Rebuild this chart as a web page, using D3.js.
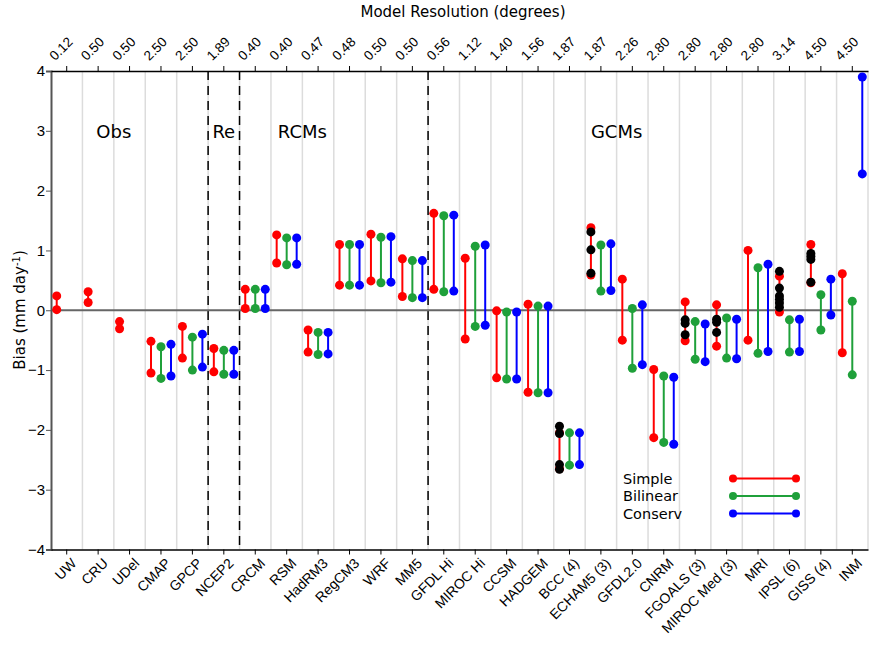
<!DOCTYPE html>
<html>
<head>
<meta charset="utf-8">
<script src="https://cdn.jsdelivr.net/npm/d3@7"></script>
<style>
  body { margin: 0; background: #fff; }
  svg { font-family: "DejaVu Sans", sans-serif; }
</style>
</head>
<body>
<svg id="chart" width="869" height="654"></svg>
<script>
const categories = ["UW", "CRU", "UDel", "CMAP", "GPCP", "NCEP2", "CRCM", "RSM", "HadRM3", "RegCM3", "WRF", "MM5",
  "GFDL Hi", "MIROC Hi", "CCSM", "HADGEM", "BCC (4)", "ECHAM5 (3)", "GFDL2.0", "CNRM", "FGOALS (3)",
  "MIROC Med (3)", "MRI", "IPSL (6)", "GISS (4)", "INM"];
const resolution = ["0.12", "0.50", "0.50", "2.50", "2.50", "1.89", "0.40", "0.40", "0.47", "0.48", "0.50", "0.50",
  "0.56", "1.12", "1.40", "1.56", "1.87", "1.87", "2.26", "2.80", "2.80", "2.80", "2.80", "3.14", "4.50", "4.50"];

const simpleHi = [0.24, 0.31, -0.19, -0.52, -0.27, -0.64, 0.35, 1.26, -0.33, 1.10, 1.27, 0.86,
  1.62, 0.87, -0.01, 0.10, -2.05, 1.38, 0.52, -0.99, 0.14, 0.09, 1.00, 0.57, 1.10, 0.61];
const simpleLo = [0.01, 0.13, -0.31, -1.05, -0.80, -1.03, 0.03, 0.79, -0.70, 0.42, 0.49, 0.23,
  0.35, -0.48, -1.13, -1.37, -2.65, 0.59, -0.50, -2.13, -0.51, -0.60, -0.50, -0.03, 0.46, -0.71];
const bilinHi = [null, null, null, -0.61, -0.45, -0.67, 0.35, 1.21, -0.37, 1.10, 1.22, 0.83,
  1.58, 1.07, -0.03, 0.07, -2.05, 1.09, 0.03, -1.10, -0.19, -0.13, 0.71, -0.16, 0.26, 0.15];
const bilinLo = [null, null, null, -1.14, -1.00, -1.07, 0.03, 0.76, -0.74, 0.42, 0.46, 0.21,
  0.31, -0.27, -1.15, -1.38, -2.59, 0.32, -0.97, -2.21, -0.82, -0.80, -0.72, -0.70, -0.33, -1.08];
const conservHi = [null, null, null, -0.57, -0.40, -0.67, 0.35, 1.21, -0.37, 1.10, 1.23, 0.83,
  1.59, 1.09, -0.03, 0.07, -2.05, 1.11, 0.09, -1.12, -0.23, -0.15, 0.77, -0.15, 0.52, 3.90];
const conservLo = [null, null, null, -1.10, -0.95, -1.07, 0.03, 0.77, -0.73, 0.42, 0.47, 0.21,
  0.32, -0.25, -1.15, -1.38, -2.58, 0.33, -0.91, -2.24, -0.86, -0.81, -0.69, -0.69, -0.08, 2.28];

// ensemble members (black dots, on the simple line)
const members = [
  ["BCC (4)", [-1.94, -2.06, -2.58, -2.66]],
  ["ECHAM5 (3)", [1.31, 1.01, 0.62]],
  ["FGOALS (3)", [-0.16, -0.22, -0.41]],
  ["MIROC Med (3)", [-0.15, -0.20, -0.37]],
  ["IPSL (6)", [0.65, 0.37, 0.24, 0.18, 0.12, 0.05]],
  ["GISS (4)", [0.95, 0.90, 0.85, 0.47]]
];

// group label and the category edge it is centred on
const groups = [["Obs", 2], ["Re", 5.5], ["RCMs", 8], ["GCMs", 18]];
const dividers = [5, 6, 12];

const methods = [
  { name: "Simple", hi: simpleHi, lo: simpleLo, color: "#ff0000", dx: -10 },
  { name: "Bilinear", hi: bilinHi, lo: bilinLo, color: "#1fa03a", dx: 0 },
  { name: "Conserv", hi: conservHi, lo: conservLo, color: "#0000ff", dx: 10 }
];

const plotLeft = 51, plotRight = 868, plotTop = 71, plotBottom = 549.5;
const svg = d3.select("#chart");

const x = d3.scaleBand().domain(categories).range([plotLeft, plotRight]);
const y = d3.scaleLinear().domain([-4, 4]).range([plotBottom, plotTop]);
const cx = (c) => x(c) + x.bandwidth() / 2;
const edge = (i) => plotLeft + i * x.bandwidth();

// light vertical grid at category edges
svg.append("g")
  .selectAll("line")
  .data(d3.range(1, categories.length + 1))
  .join("line")
  .attr("x1", edge).attr("x2", edge)
  .attr("y1", plotTop).attr("y2", plotBottom)
  .attr("stroke", "#dcdcdc")
  .attr("stroke-width", 1.5);

// dashed group dividers
svg.append("g")
  .selectAll("line")
  .data(dividers)
  .join("line")
  .attr("x1", edge).attr("x2", edge)
  .attr("y1", plotTop).attr("y2", plotBottom)
  .attr("stroke", "#000")
  .attr("stroke-width", 1.5)
  .attr("stroke-dasharray", "9,6");

// zero line
svg.append("line")
  .attr("x1", plotLeft).attr("x2", cx("INM") - 10)
  .attr("y1", y(0)).attr("y2", y(0))
  .attr("stroke", "#666")
  .attr("stroke-width", 1.8);

// axes
const yAxis = svg.append("g")
  .attr("transform", `translate(${plotLeft},0)`)
  .call(d3.axisLeft(y).ticks(8).tickSize(5).tickFormat(d3.format("d")));
yAxis.select(".domain").attr("stroke", "#555").attr("stroke-width", 2);
yAxis.selectAll(".tick line").attr("stroke", "#555");
yAxis.selectAll("text").attr("font-size", 15).attr("fill", "#000").attr("dx", 2);

const xBottom = svg.append("g")
  .attr("transform", `translate(0,${plotBottom})`)
  .call(d3.axisBottom(x).tickSize(5).tickSizeOuter(0));
xBottom.select(".domain").attr("stroke", "#000").attr("stroke-width", 1.5);
xBottom.selectAll("text")
  .attr("font-size", 14)
  .attr("text-anchor", "end")
  .attr("dy", 0)
  .attr("transform", "translate(5,9) rotate(-45)");

const xTop = svg.append("g")
  .attr("transform", `translate(0,${plotTop})`)
  .call(d3.axisTop(x).tickSize(5).tickSizeOuter(0).tickFormat((d, i) => resolution[i]));
xTop.select(".domain").attr("stroke", "#000").attr("stroke-width", 1.5);
xTop.selectAll("text")
  .attr("font-size", 13.5)
  .attr("text-anchor", "start")
  .attr("dy", 0)
  .attr("transform", "translate(-6,-4) rotate(-45)");

// group labels
svg.append("g")
  .selectAll("text")
  .data(groups)
  .join("text")
  .attr("x", (d) => edge(d[1]))
  .attr("y", y(3) + 7)
  .attr("text-anchor", "middle")
  .attr("font-size", 18)
  .text((d) => d[0]);

// range bars per method
methods.forEach((m) => {
  const rows = categories
    .map((c, i) => ({ c, hi: m.hi[i], lo: m.lo[i] }))
    .filter((d) => d.hi !== null);
  const g = svg.append("g");
  g.selectAll("line")
    .data(rows)
    .join("line")
    .attr("x1", (d) => cx(d.c) + m.dx).attr("x2", (d) => cx(d.c) + m.dx)
    .attr("y1", (d) => y(d.hi)).attr("y2", (d) => y(d.lo))
    .attr("stroke", m.color)
    .attr("stroke-width", 2);
  g.selectAll("circle")
    .data(rows.flatMap((d) => [[d.c, d.hi], [d.c, d.lo]]))
    .join("circle")
    .attr("cx", (d) => cx(d[0]) + m.dx)
    .attr("cy", (d) => y(d[1]))
    .attr("r", 4.5)
    .attr("fill", m.color);
});

// black ensemble member dots
svg.append("g")
  .selectAll("circle")
  .data(members.flatMap(([c, vals]) => vals.map((v) => [c, v])))
  .join("circle")
  .attr("cx", (d) => cx(d[0]) - 10)
  .attr("cy", (d) => y(d[1]))
  .attr("r", 4.5)
  .attr("fill", "#000");

// legend
const legend = svg.append("g");
methods.forEach((m, i) => {
  const ly = 478.5 + i * 17.5;
  legend.append("text")
    .attr("x", 623).attr("y", ly + 5)
    .attr("font-size", 14.5)
    .text(m.name);
  legend.append("line")
    .attr("x1", 733).attr("x2", 796)
    .attr("y1", ly).attr("y2", ly)
    .attr("stroke", m.color).attr("stroke-width", 2);
  [733, 796].forEach((lx) => {
    legend.append("circle").attr("cx", lx).attr("cy", ly).attr("r", 4).attr("fill", m.color);
  });
});

// axis titles
svg.append("text")
  .attr("x", 463).attr("y", 17)
  .attr("text-anchor", "middle")
  .attr("font-size", 15)
  .text("Model Resolution (degrees)");

const yTitle = svg.append("text")
  .attr("transform", "translate(25,310) rotate(-90)")
  .attr("text-anchor", "middle")
  .attr("font-size", 15);
yTitle.append("tspan").text("Bias (mm day");
yTitle.append("tspan").attr("font-size", 10).attr("dy", -5).text("-1");
yTitle.append("tspan").attr("dy", 5).text(")");
</script>
</body>
</html>
